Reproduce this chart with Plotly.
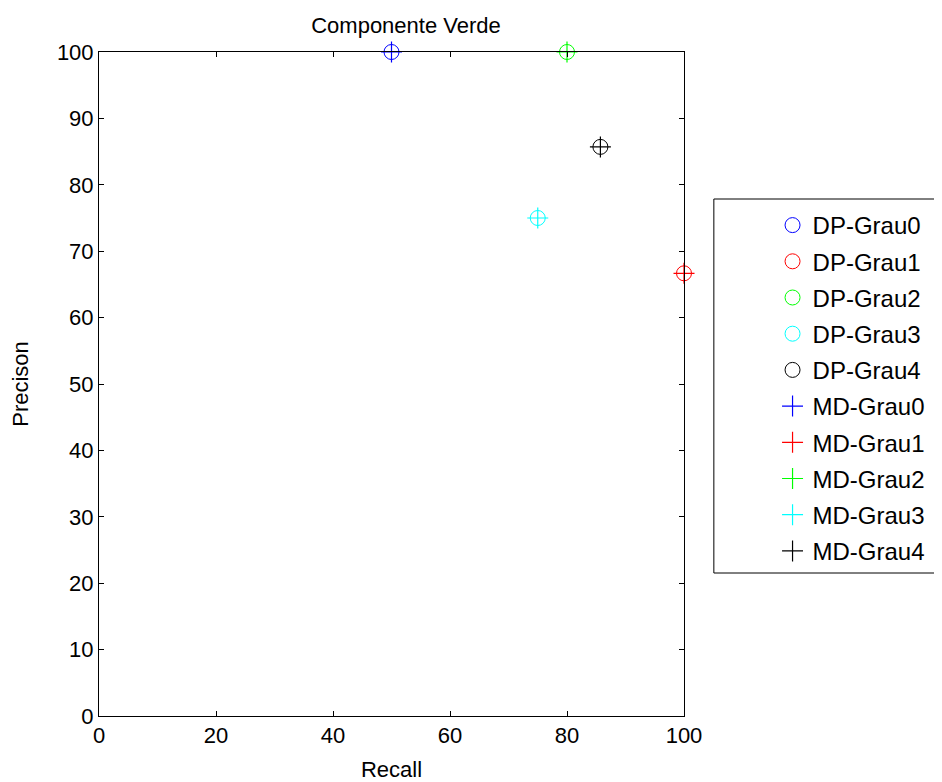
import plotly.graph_objects as go

names = ["Grau0", "Grau1", "Grau2", "Grau3", "Grau4"]
colors = ["#0000ff", "#ff0000", "#00ff00", "#00ffff", "#000000"]
recall_dp = [50, 100, 80, 75, 85.71]
precision_dp = [100, 66.67, 100, 75, 85.71]
recall_md = [50, 100, 80, 75, 85.71]
precision_md = [100, 66.67, 100, 75, 85.71]

OFF = 8  # page body margin
W, H = 942 - OFF, 782 - OFF
L, T = 99 - OFF, 52 - OFF
pw, ph = 588, 664
R, B = W - L - pw, H - T - ph

FONT = "Liberation Sans, Arial"

def px_x(sx):
    return (sx - OFF - L) / pw

def px_y(sy):
    return (T + ph - (sy - OFF)) / ph

fig = go.Figure()
for i, (n, c, x, y) in enumerate(zip(names, colors, recall_dp, precision_dp)):
    fig.add_trace(go.Scatter(x=[x], y=[y], mode="markers", name="DP-" + n, legendgroup="dp%d" % i,
                             marker=dict(symbol="circle-open", size=15, color=c, line=dict(width=1, color=c)),
                             cliponaxis=False))
for i, (n, c, x, y) in enumerate(zip(names, colors, recall_md, precision_md)):
    fig.add_trace(go.Scatter(x=[x], y=[y], mode="markers", name="MD-" + n, legendgroup="md%d" % i,
                             marker=dict(symbol="cross-thin-open", size=15, color=c, line=dict(width=1.2, color=c)),
                             cliponaxis=False))

axis_common = dict(showline=True, linecolor="black", linewidth=1, mirror="allticks",
                   ticks="inside", ticklen=5, tickcolor="black", showgrid=False, zeroline=False,
                   automargin=False,
                   tickfont=dict(family=FONT, size=22, color="black"))
fig.update_xaxes(range=[0, 100], dtick=20, title=dict(text="Recall", font=dict(size=22, family=FONT, color="black"), standoff=14), **axis_common)
fig.update_yaxes(range=[0, 100], dtick=10, title=dict(text="Precison", font=dict(size=22, family=FONT, color="black"), standoff=22), **axis_common)

# legend frame
fig.add_shape(type="rect", xref="paper", yref="paper",
              x0=px_x(717), x1=px_x(941), y0=px_y(573), y1=px_y(199),
              line=dict(color="black", width=1), fillcolor="white", layer="below")

fig.update_layout(
    width=W, height=H,
    margin=dict(l=L, r=R, t=T, b=B),
    plot_bgcolor="white", paper_bgcolor="white",
    font=dict(family=FONT, size=22, color="black"),
    title=dict(text="Componente Verde", x=(406 - OFF) / W, xanchor="center", y=1 - (25 - OFF) / H, yanchor="middle",
               font=dict(size=22, color="black")),
    legend=dict(x=px_x(776), xanchor="left", y=px_y(203), yanchor="top", borderwidth=0,
                bgcolor="rgba(0,0,0,0)", font=dict(size=24), tracegroupgap=2),
    showlegend=True,
)
fig.write_html("out.html")
